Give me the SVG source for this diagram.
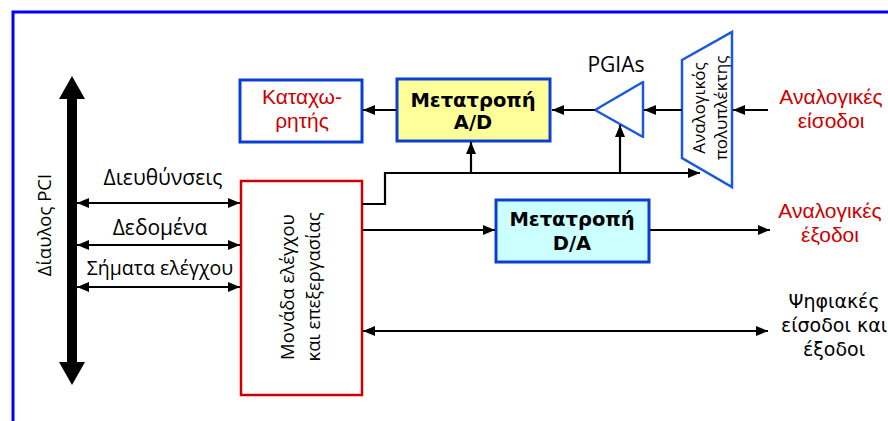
<svg xmlns="http://www.w3.org/2000/svg" width="888" height="421" viewBox="0 0 888 421">
<defs>
<style>
.ln{fill:none;stroke:#000;stroke-width:2.2}
.box{stroke:#0a3fd0;stroke-width:3}
.lbl{font-family:"Open Sans","Noto Sans",sans-serif;font-size:21px;fill:#000}
.red{font-family:"Liberation Sans",Arial,sans-serif;font-size:21px;fill:#cc0000;text-anchor:middle}
.bold{font-family:"DejaVu Sans",Verdana,sans-serif;font-size:19.5px;font-weight:bold;fill:#000;text-anchor:middle}
.vd{font-family:"DejaVu Sans",Verdana,sans-serif;font-size:19px;fill:#000;text-anchor:middle}
</style>
<marker id="ah" viewBox="0 0 12 10" refX="12" refY="5" markerWidth="12" markerHeight="10" markerUnits="userSpaceOnUse" orient="auto-start-reverse">
<path d="M0,0 L12,5 L0,10 Z" fill="#000"/>
</marker>
</defs>
<rect width="888" height="421" fill="#fff"/>
<path d="M13,421 V12 H888" fill="none" stroke="#0000ff" stroke-width="3"/>

<g id="pci-bus">
<rect x="67" y="97" width="10" height="267" fill="#000"/>
<path d="M72,76 L85,99 L59,99 Z" fill="#000"/>
<path d="M72,385 L85,362 L59,362 Z" fill="#000"/>
<text class="lbl" text-anchor="middle" style="font-size:18.5px" transform="translate(51,225) rotate(-90)">Δίαυλος PCI</text>
</g>

<g id="register">
<rect class="box" x="240" y="80" width="122" height="62" fill="#fff"/>
<text class="red" x="302" y="104">Καταχω-</text>
<text class="red" x="302" y="128">ρητής</text>
</g>

<g id="adc">
<rect class="box" x="397" y="79" width="153" height="62" fill="#ffff99"/>
<text class="bold" x="473" y="107">Μετατροπή</text>
<text class="bold" x="473" y="129">A/D</text>
</g>

<g id="pgia">
<path d="M595,110 L643,82 L643,137 Z" fill="none" stroke="#1a5ad8" stroke-width="2.5" stroke-linejoin="round"/>
<text class="lbl" x="616" y="72" text-anchor="middle">PGIAs</text>
</g>

<g id="mux">
<path d="M682,60 L732,32 L732,187 L682,158 Z" fill="#fff" stroke="#1a5ad8" stroke-width="2.5"/>
<text class="lbl" style="font-size:17px" text-anchor="middle" transform="translate(705,108) rotate(-90)">Αναλογικός</text>
<text class="lbl" style="font-size:17px" text-anchor="middle" transform="translate(727,108) rotate(-90)">πολυπλέκτης</text>
</g>

<g id="analog-in">
<text class="red" x="831" y="104">Αναλογικές</text>
<text class="red" x="831" y="128">είσοδοι</text>
</g>

<g id="control-unit">
<rect x="241" y="181" width="121" height="214" fill="#fff" stroke="#cc0000" stroke-width="2.5"/>
<text class="lbl" style="font-size:18.5px" text-anchor="middle" transform="translate(294,287) rotate(-90)">Μονάδα ελέγχου</text>
<text class="lbl" style="font-size:18.5px" text-anchor="middle" transform="translate(320,287) rotate(-90)">και επεξεργασίας</text>
</g>

<g id="dac">
<rect class="box" x="496" y="200" width="153" height="62" fill="#ccffff"/>
<text class="bold" x="572" y="226">Μετατροπή</text>
<text class="bold" x="572" y="250">D/A</text>
</g>

<g id="analog-out">
<text class="red" x="830" y="218">Αναλογικές</text>
<text class="red" x="830" y="242">έξοδοι</text>
</g>

<g id="digital-io">
<text class="vd" x="834" y="308">Ψηφιακές</text>
<text class="vd" x="834" y="332">είσοδοι και</text>
<text class="vd" x="834" y="356">έξοδοι</text>
</g>

<g id="bus-labels">
<text class="lbl" x="163" y="185" text-anchor="middle">Διευθύνσεις</text>
<text class="lbl" x="160" y="235" text-anchor="middle">Δεδομένα</text>
<text class="lbl" style="font-size:19.5px" x="160" y="275" text-anchor="middle">Σήματα ελέγχου</text>
</g>

<g id="connectors">
<line class="ln" x1="77" y1="203" x2="240" y2="203" marker-start="url(#ah)" marker-end="url(#ah)"/>
<line class="ln" x1="77" y1="245" x2="240" y2="245" marker-start="url(#ah)" marker-end="url(#ah)"/>
<line class="ln" x1="77" y1="287" x2="240" y2="287" marker-start="url(#ah)" marker-end="url(#ah)"/>
<line class="ln" x1="396" y1="110" x2="363" y2="110" marker-end="url(#ah)"/>
<line class="ln" x1="595" y1="110" x2="552" y2="110" marker-end="url(#ah)"/>
<line class="ln" x1="682" y1="110" x2="644" y2="110" marker-end="url(#ah)"/>
<line class="ln" x1="768" y1="110" x2="733" y2="110" marker-end="url(#ah)"/>
<polyline class="ln" points="362,204 385,204 385,173 700,173" marker-end="url(#ah)"/>
<line class="ln" x1="471" y1="173" x2="471" y2="142" marker-end="url(#ah)"/>
<line class="ln" x1="620" y1="173" x2="620" y2="125" marker-end="url(#ah)"/>
<line class="ln" x1="363" y1="230" x2="495" y2="230" marker-end="url(#ah)"/>
<line class="ln" x1="650" y1="230" x2="770" y2="230" marker-end="url(#ah)"/>
<line class="ln" x1="363" y1="331" x2="768" y2="331" marker-start="url(#ah)" marker-end="url(#ah)"/>
</g>
</svg>
